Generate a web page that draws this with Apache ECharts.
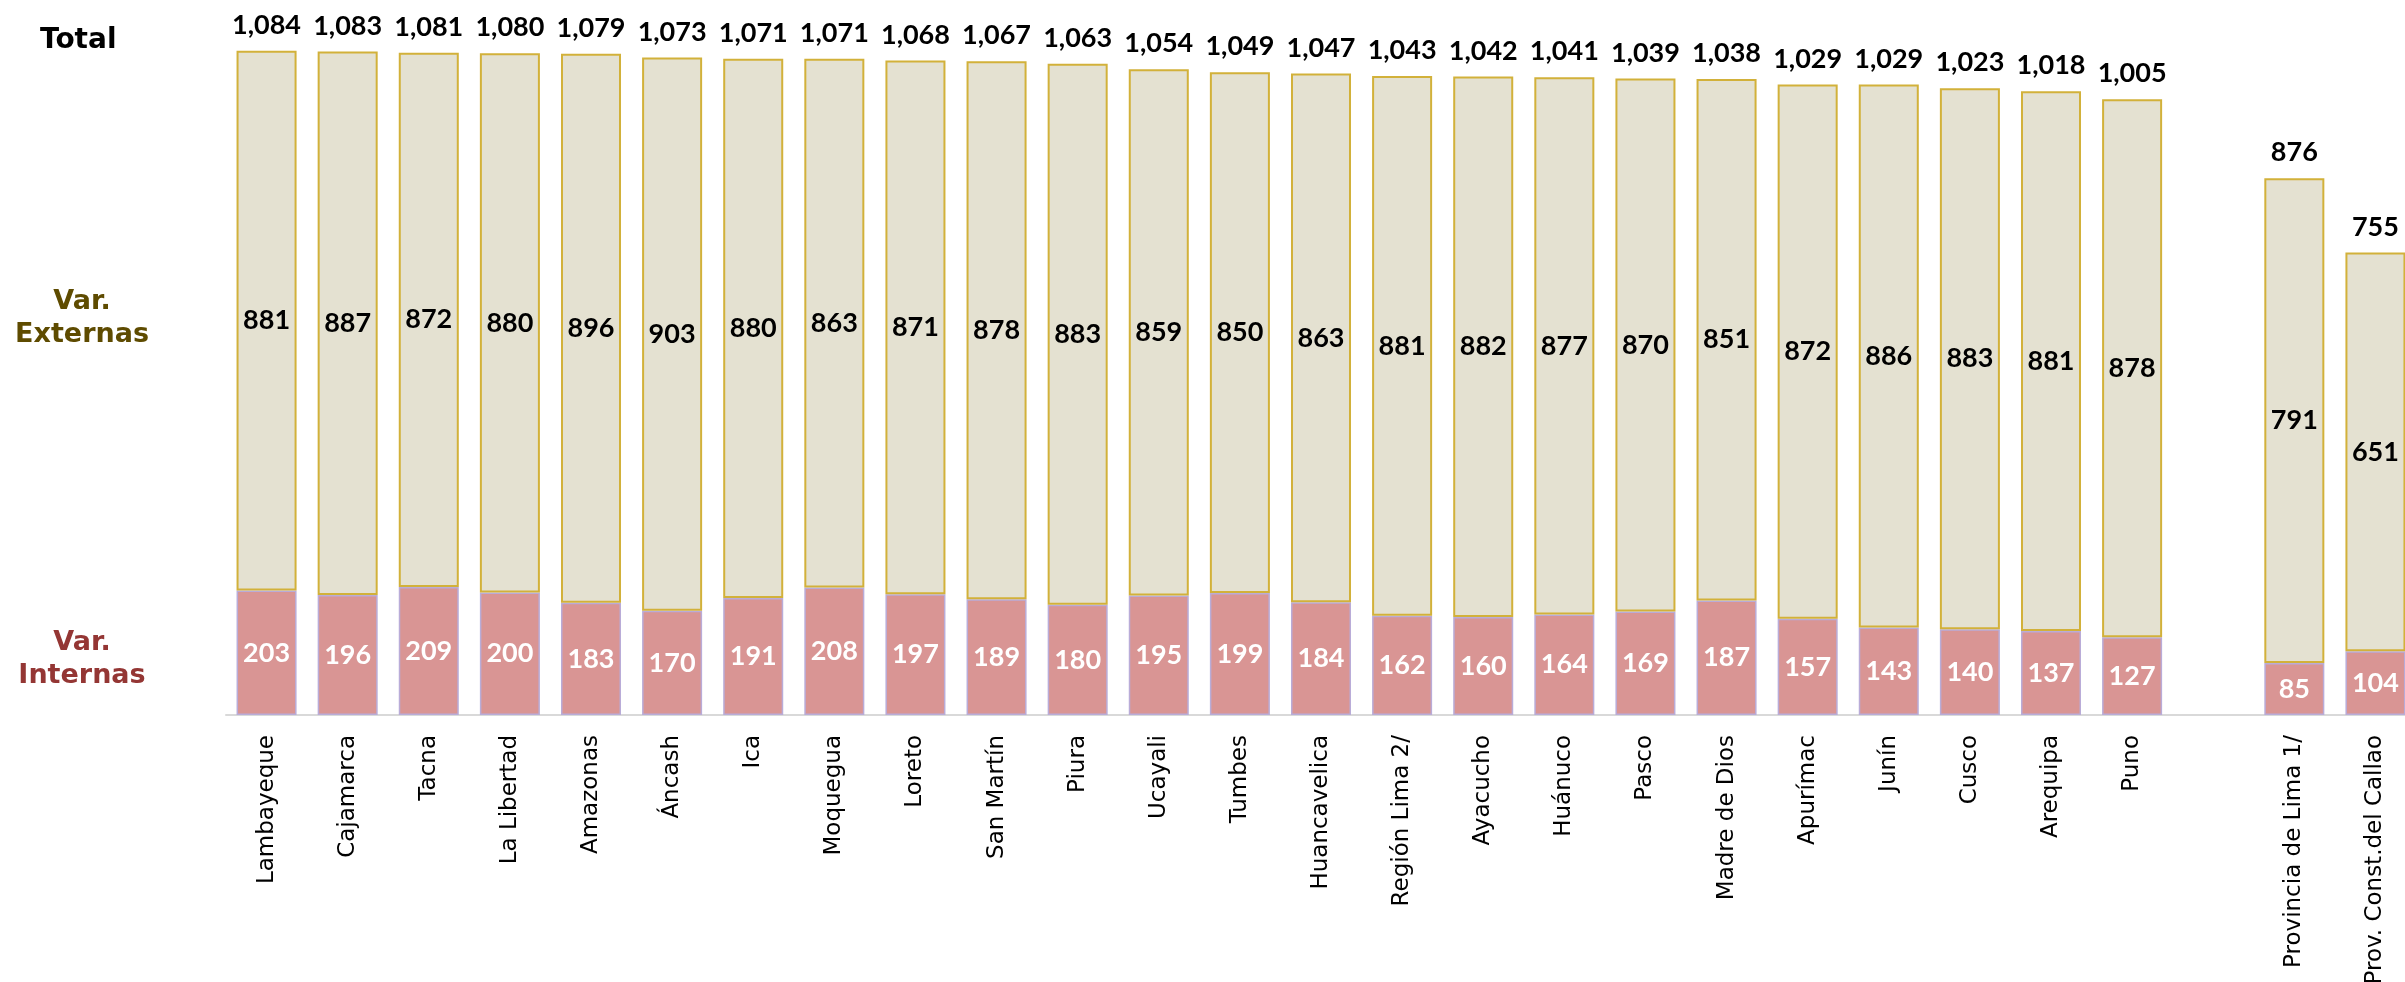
<!DOCTYPE html>
<html lang="es" style="height: 100%">
<head>
<meta charset="utf-8">
<title>Variables internas y externas por región</title>
</head>
<body style="height: 100%; margin: 0; background: #ffffff">
<div id="container" style="height: 100%"></div>

<script type="text/javascript" src="https://cdn.jsdelivr.net/npm/echarts@6/dist/echarts.min.js"></script>

<script type="text/javascript">
var dom = document.getElementById('container');
var myChart = echarts.init(dom);

// regiones (la celda vacia separa Lima y Callao)
var regiones = ['Lambayeque', 'Cajamarca', 'Tacna', 'La Libertad', 'Amazonas', 'Áncash', 'Ica',
    'Moquegua', 'Loreto', 'San Martín', 'Piura', 'Ucayali', 'Tumbes', 'Huancavelica',
    'Región Lima 2/', 'Ayacucho', 'Huánuco', 'Pasco', 'Madre de Dios', 'Apurímac', 'Junín',
    'Cusco', 'Arequipa', 'Puno', '', 'Provincia de Lima 1/', 'Prov. Const.del Callao'];

var internas = [203, 196, 209, 200, 183, 170, 191, 208, 197, 189, 180, 195, 199, 184,
    162, 160, 164, 169, 187, 157, 143, 140, 137, 127, '-', 85, 104];

var externas = [881, 887, 872, 880, 896, 903, 880, 863, 871, 878, 883, 859, 850, 863,
    881, 882, 877, 870, 851, 872, 886, 883, 881, 878, '-', 791, 651];

var totales = [1084, 1083, 1081, 1080, 1079, 1073, 1071, 1071, 1068, 1067, 1063, 1054, 1049, 1047,
    1043, 1042, 1041, 1039, 1038, 1029, 1029, 1023, 1018, 1005, '-', 876, 755];

var numFont = 'Lato';

option = {
    animation: false,
    grid: {
        left: 226,
        top: 41,
        width: 2190,
        height: 674,
        outerBoundsMode: 'none'
    },
    xAxis: {
        type: 'category',
        data: regiones,
        axisTick: { show: false },
        axisLine: {
            show: true,
            lineStyle: { color: '#d9d9d9', width: 2 }
        },
        axisLabel: {
            interval: 0,
            rotate: 90,
            margin: 20,
            color: '#000',
            fontFamily: 'DejaVu Sans',
            fontSize: 23
        }
    },
    yAxis: {
        type: 'value',
        min: 0,
        max: 1100,
        show: false,
        splitLine: { show: false }
    },
    graphic: [
        {
            type: 'text',
            left: 40,
            top: 27,
            style: {
                text: 'Total',
                fill: '#000',
                font: 'bold 28px "DejaVu Sans"'
            }
        },
        {
            type: 'text',
            x: 82,
            y: 318,
            style: {
                text: 'Var.\nExternas',
                fill: '#5e4b00',
                font: 'bold 27px "DejaVu Sans"',
                align: 'center',
                verticalAlign: 'middle',
                lineHeight: 33
            }
        },
        {
            type: 'text',
            x: 82,
            y: 659,
            style: {
                text: 'Var.\nInternas',
                fill: '#943634',
                font: 'bold 27px "DejaVu Sans"',
                align: 'center',
                verticalAlign: 'middle',
                lineHeight: 33
            }
        }
    ],
    series: [
        {
            name: 'Var. Internas',
            type: 'bar',
            stack: 'var',
            barCategoryGap: '26%',
            data: internas,
            itemStyle: {
                color: '#d99594',
                borderColor: '#b9acd8',
                borderWidth: 1.5
            },
            label: {
                show: true,
                position: 'inside',
                color: '#fff',
                fontFamily: numFont,
                fontWeight: 'bold',
                fontSize: 27
            },
            z: 3
        },
        {
            name: 'Var. Externas',
            type: 'bar',
            stack: 'var',
            data: externas,
            itemStyle: {
                color: '#e4e1d1',
                borderColor: '#d2b13a',
                borderWidth: 2
            },
            label: {
                show: true,
                position: 'inside',
                color: '#000',
                fontFamily: numFont,
                fontWeight: 'bold',
                fontSize: 27
            },
            z: 3
        },
        {
            name: 'Total',
            type: 'bar',
            barGap: '-100%',
            data: totales,
            itemStyle: { color: 'rgba(0,0,0,0)' },
            label: {
                show: true,
                position: 'top',
                distance: 12,
                color: '#000',
                fontFamily: numFont,
                fontWeight: 'bold',
                fontSize: 27,
                formatter: function (p) {
                    return p.value.toLocaleString('en-US');
                }
            },
            z: 2
        }
    ]
};

if (option && typeof option === 'object') {
    myChart.setOption(option);
}

window.addEventListener('resize', myChart.resize);
</script>
</body>
</html>
